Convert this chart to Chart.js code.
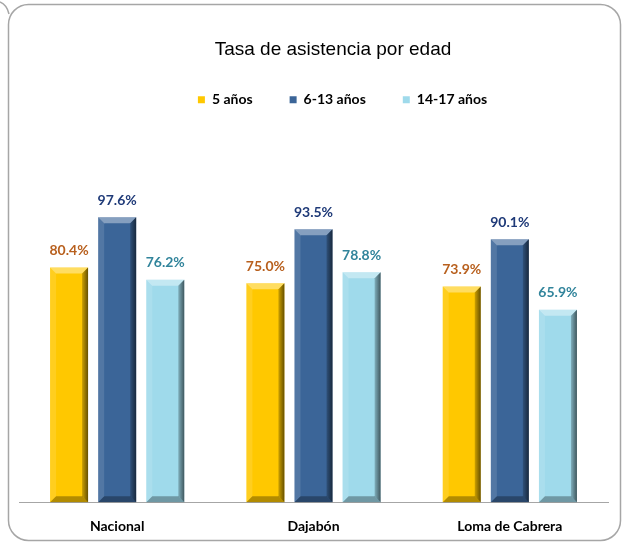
<!DOCTYPE html>
<html>
<head>
<meta charset="utf-8">
<script src="https://cdn.jsdelivr.net/npm/chart.js@4.4.1/dist/chart.umd.min.js"></script>
<style>
    html, body { margin: 0; padding: 0; background: #ffffff; }
    #wrap { width: 624px; height: 544px; }
</style>
</head>
<body>
<div id="wrap"><canvas id="asistencia-chart" width="624" height="544"></canvas></div>
<script>
// Datos
const categorias = ['Nacional', 'Dajabón', 'Loma de Cabrera'];
const series = ['5 años', '6-13 años', '14-17 años'];
const tasa5 = [80.4, 75.0, 73.9];
const tasa6a13 = [97.6, 93.5, 90.1];
const tasa14a17 = [76.2, 78.8, 65.9];

const coloresBarra = ['#FFC800', '#3B6598', '#9FDAEB'];
const coloresEtiqueta = ['#B8601E', '#1F3A78', '#31849B'];

// Marco redondeado y fondo blanco
const marcoPlugin = {
    id: 'marco',
    beforeDraw(chart) {
        const ctx = chart.ctx;
        ctx.save();
        ctx.fillStyle = '#ffffff';
        ctx.fillRect(0, 0, chart.width, chart.height);
        ctx.strokeStyle = '#A6A6A6';
        ctx.lineWidth = 1.5;
        ctx.beginPath();
        ctx.roundRect(8.5, 4.5, 612, 536, 20);
        ctx.stroke();
        // esquina del marco vecino
        ctx.beginPath();
        ctx.moveTo(0, 2);
        ctx.quadraticCurveTo(7, 5, 9, 14);
        ctx.stroke();
        ctx.restore();
    }
};

// Desplaza título y leyenda como en el original
const desplazarPlugin = {
    id: 'desplazar',
    afterLayout(chart) {
        if (chart.titleBlock) {
            chart.titleBlock.left += 39;
        }
        if (chart.legend) {
            chart.legend.left += 29;
            chart.legend.right += 29;
        }
    }
};

// Efecto biselado sobre cada barra
const biselPlugin = {
    id: 'bisel',
    afterDatasetsDraw(chart) {
        const ctx = chart.ctx;
        const b = 6;
        chart.data.datasets.forEach((ds, i) => {
            const meta = chart.getDatasetMeta(i);
            meta.data.forEach(bar => {
                const l = bar.x - bar.width / 2;
                const r = bar.x + bar.width / 2;
                const t = bar.y;
                const bot = bar.base;
                ctx.save();
                // arriba
                ctx.fillStyle = 'rgba(255,255,255,0.38)';
                ctx.beginPath();
                ctx.moveTo(l, t); ctx.lineTo(r, t); ctx.lineTo(r - b, t + b); ctx.lineTo(l + b, t + b);
                ctx.closePath(); ctx.fill();
                // izquierda
                ctx.fillStyle = 'rgba(255,255,255,0.12)';
                ctx.beginPath();
                ctx.moveTo(l, t); ctx.lineTo(l + b, t + b); ctx.lineTo(l + b, bot - b); ctx.lineTo(l, bot);
                ctx.closePath(); ctx.fill();
                // derecha
                const g = ctx.createLinearGradient(r - b, 0, r, 0);
                g.addColorStop(0, 'rgba(0,0,0,0.2)');
                g.addColorStop(1, 'rgba(0,0,0,0.6)');
                ctx.fillStyle = g;
                ctx.beginPath();
                ctx.moveTo(r, t); ctx.lineTo(r, bot); ctx.lineTo(r - b, bot - b); ctx.lineTo(r - b, t + b);
                ctx.closePath(); ctx.fill();
                // abajo
                ctx.fillStyle = 'rgba(0,0,0,0.3)';
                ctx.beginPath();
                ctx.moveTo(l, bot); ctx.lineTo(r, bot); ctx.lineTo(r - b, bot - b); ctx.lineTo(l + b, bot - b);
                ctx.closePath(); ctx.fill();
                ctx.restore();
            });
        });
    }
};

// Etiquetas de valor encima de las barras
const etiquetasPlugin = {
    id: 'etiquetas',
    afterDatasetsDraw(chart) {
        const ctx = chart.ctx;
        ctx.save();
        ctx.font = 'bold 14px Lato';
        ctx.textAlign = 'center';
        ctx.textBaseline = 'middle';
        chart.data.datasets.forEach((ds, i) => {
            const meta = chart.getDatasetMeta(i);
            ctx.fillStyle = coloresEtiqueta[i];
            meta.data.forEach((bar, j) => {
                ctx.fillText(ds.data[j].toFixed(1) + '%', bar.x, bar.y - 17);
            });
        });
        ctx.restore();
    }
};

function crearGrafico() {
    const ctx = document.getElementById('asistencia-chart');
    const valores = [tasa5, tasa6a13, tasa14a17];

    const datasets = series.map((nombre, i) => ({
        label: nombre,
        data: valores[i],
        backgroundColor: coloresBarra[i],
        borderWidth: 0,
        categoryPercentage: 0.735,
        barPercentage: 0.79
    }));

    new Chart(ctx, {
        type: 'bar',
        data: {
            labels: categorias,
            datasets: datasets
        },
        options: {
            responsive: false,
            animation: false,
            layout: {
                padding: { left: 19, right: 16, top: 26, bottom: -7 }
            },
            plugins: {
                title: {
                    display: true,
                    text: 'Tasa de asistencia por edad',
                    color: '#000000',
                    font: { family: '"Liberation Sans Narrow", "Liberation Sans", Arial', size: 19, weight: 'normal' },
                    padding: { top: 12, bottom: -5 }
                },
                legend: {
                    labels: {
                        boxWidth: 7,
                        boxHeight: 7,
                        padding: 37,
                        color: '#000000',
                        font: { family: 'Lato', size: 14, weight: 'bold' }
                    }
                },
                tooltip: { enabled: false }
            },
            scales: {
                x: {
                    grid: { display: false, drawTicks: false },
                    border: { color: '#A6A6A6', width: 1 },
                    ticks: {
                        color: '#000000',
                        padding: 16,
                        font: { family: 'Lato', size: 14, weight: 'bold' }
                    }
                },
                y: {
                    display: false,
                    min: 0,
                    max: 132
                }
            }
        },
        plugins: [marcoPlugin, desplazarPlugin, biselPlugin, etiquetasPlugin]
    });
}

crearGrafico();
</script>
</body>
</html>
